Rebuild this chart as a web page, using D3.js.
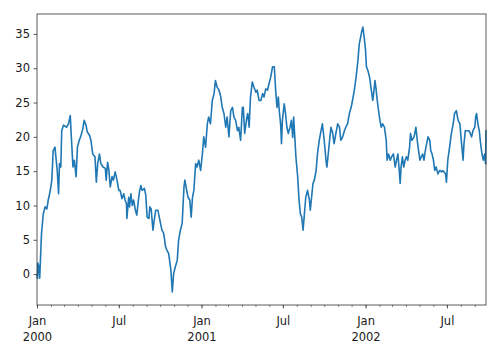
<!DOCTYPE html>
<html>
<head>
<meta charset="utf-8">
<script src="https://cdn.jsdelivr.net/npm/d3@7"></script>
<style>
  body { margin: 0; background: #fff; }
  text { font-family: "DejaVu Sans", sans-serif; font-size: 11.5px; fill: #1a1a1a; }
</style>
</head>
<body>
<svg width="500" height="353"></svg>
<script>
// dagen vanaf 2000-01-01 en de bijbehorende waarden
var days = [0, 1, 2, 4, 6, 10, 14, 18, 22, 25, 29, 33, 36, 40, 42, 45, 48, 50, 53, 55,
    59, 66, 70, 74, 76, 80, 83, 87, 90, 94, 97, 102, 105, 109, 112, 117, 120, 124, 129, 132,
    135, 139, 142, 147, 152, 154, 157, 160, 163, 167, 170, 174, 178, 182, 185, 189, 193, 196, 199, 200,
    204, 206, 209, 212, 215, 219, 222, 226, 228, 231, 234, 239, 242, 245, 249, 251, 254, 258, 261, 264,
    269, 272, 278, 282, 286, 289, 293, 295, 298, 301, 304, 308, 312, 315, 319, 323, 327, 329, 333, 336,
    340, 343, 346, 349, 353, 356, 360, 364, 368, 371, 375, 379, 382, 386, 390, 394, 397, 401, 405, 409,
    412, 416, 420, 423, 427, 431, 435, 438, 442, 446, 449, 453, 457, 459, 462, 467, 469, 472, 475, 479,
    483, 487, 490, 494, 498, 502, 505, 509, 513, 516, 520, 524, 528, 531, 534, 537, 539, 542, 544, 546,
    550, 553, 556, 559, 563, 566, 569, 571, 574, 576, 580, 583, 586, 589, 592, 595, 598, 602, 606, 608,
    611, 614, 617, 621, 624, 628, 632, 635, 639, 643, 645, 648, 651, 654, 658, 661, 665, 669, 673, 676,
    680, 684, 687, 691, 695, 699, 702, 706, 710, 714, 717, 720, 722, 725, 728, 731, 733, 736, 740, 743,
    747, 749, 752, 754, 757, 760, 763, 766, 769, 773, 777, 779, 782, 786, 789, 793, 797, 800, 803, 806,
    808, 810, 813, 816, 819, 822, 825, 829, 831, 834, 839, 843, 846, 849, 852, 855, 858, 861, 864, 867,
    870, 874, 876, 879, 882, 885, 888, 892, 896, 900, 903, 909, 911, 914, 918, 922, 926, 929, 933, 937,
    941, 944, 948, 950, 953, 958, 961, 964, 967, 970, 974, 976, 978, 981, 984, 987, 990, 993, 996, 998,
    999];

var values = [0.0, -0.6, 1.6, 1.1, -0.6, 5.9, 8.8, 9.8, 9.5, 10.8, 12.0, 13.7, 18.0, 18.5, 17.1, 15.1, 11.7, 16.1, 15.6, 20.9,
    21.7, 21.4, 21.9, 23.1, 20.5, 15.6, 16.6, 14.2, 18.5, 19.5, 20.0, 21.2, 22.4, 21.7, 20.7, 20.2, 19.5, 17.5, 17.1, 13.4,
    16.1, 17.5, 16.1, 15.6, 15.4, 13.7, 16.3, 15.1, 12.7, 14.2, 13.7, 14.9, 13.7, 12.2, 12.2, 11.0, 11.7, 10.8, 10.3, 8.1,
    11.2, 9.8, 11.7, 10.0, 10.8, 9.3, 8.6, 11.0, 12.0, 12.9, 12.2, 12.5, 11.5, 8.3, 8.1, 9.8, 9.5, 6.4, 7.9, 9.3,
    9.3, 8.3, 6.4, 5.9, 4.0, 3.5, 3.0, 2.0, 0.5, -2.6, 0.1, 1.1, 2.0, 4.9, 6.4, 7.4, 12.7, 13.7, 12.2, 11.2,
    10.8, 8.3, 11.2, 12.2, 16.1, 15.6, 16.6, 15.1, 17.5, 20.0, 18.5, 21.9, 22.9, 21.9, 25.3, 26.3, 28.2, 27.2, 26.8, 25.8,
    24.3, 23.4, 21.4, 22.9, 20.0, 23.8, 24.3, 22.9, 22.4, 20.9, 21.4, 19.5, 24.3, 24.3, 20.5, 22.9, 23.4, 21.4, 25.8, 28.0,
    27.2, 26.5, 26.8, 25.3, 25.3, 26.3, 25.8, 27.0, 26.8, 27.7, 28.7, 30.2, 30.2, 26.8, 24.3, 25.8, 23.8, 21.9, 19.0, 22.4,
    24.8, 23.4, 21.4, 20.5, 21.4, 22.4, 19.9, 22.9, 19.5, 17.1, 14.2, 10.8, 8.8, 8.3, 6.4, 8.8, 11.2, 12.2, 10.8, 9.3,
    11.2, 13.2, 13.7, 15.1, 17.5, 19.5, 20.9, 21.9, 19.5, 16.6, 15.6, 17.5, 19.5, 21.4, 20.5, 19.0, 20.5, 21.9, 21.4, 19.5,
    20.0, 20.9, 21.4, 21.9, 23.4, 24.3, 25.3, 26.8, 28.7, 31.1, 33.5, 34.5, 35.2, 36.0, 34.5, 32.6, 30.2, 29.7, 28.7, 27.2,
    25.3, 26.3, 28.2, 27.2, 25.3, 23.8, 22.4, 21.4, 21.9, 21.4, 19.5, 16.6, 17.5, 16.6, 17.1, 17.5, 15.6, 16.6, 17.5, 15.1,
    13.2, 15.6, 17.1, 15.6, 16.6, 17.1, 16.6, 18.5, 20.5, 19.5, 20.0, 21.4, 19.5, 18.0, 16.6, 17.1, 17.5, 16.6, 18.0, 19.0,
    20.0, 19.5, 18.0, 17.5, 16.6, 15.1, 15.6, 14.6, 15.1, 14.9, 15.1, 14.6, 13.4, 16.6, 18.5, 20.5, 21.9, 23.4, 23.8, 22.4,
    21.9, 19.5, 16.6, 19.0, 20.9, 20.9, 20.9, 20.5, 20.0, 20.9, 21.4, 22.9, 23.4, 21.9, 20.9, 19.0, 17.5, 16.6, 17.5, 16.1,
    21.0];

var yTicks = [0, 5, 10, 15, 20, 25, 30, 35];
var xMajorTicks = ["2000-01-01", "2000-07-01", "2001-01-01", "2001-07-01", "2002-01-01", "2002-07-01"];
var xMajorLabels = [["Jan", "2000"], ["Jul"], ["Jan", "2001"], ["Jul"], ["Jan", "2002"], ["Jul"]];

var svg = d3.select("svg"),
    margin = { top: 14, right: 14, bottom: 48, left: 37 },
    width = +svg.attr("width") - margin.left - margin.right,
    height = +svg.attr("height") - margin.top - margin.bottom;

var start = new Date(Date.UTC(2000, 0, 1));
function dayToDate(n) {
    return new Date(start.getTime() + n * 86400000);
}

var data = days.map(function (d, i) {
    return { date: dayToDate(d), value: values[i] };
});

var x = d3.scaleUtc()
    .domain([start, dayToDate(999)])
    .range([0, width]);
var y = d3.scaleLinear()
    .domain([-4.5, 37.9])
    .range([height, 0]);

var g = svg.append("g")
    .attr("transform", "translate(" + margin.left + "," + margin.top + ")");

// lijn
g.append("path")
    .datum(data)
    .attr("fill", "none")
    .attr("stroke", "#1f77b4")
    .attr("stroke-width", 1.6)
    .attr("stroke-linejoin", "round")
    .attr("d", d3.line()
        .x(function (d) { return x(d.date); })
        .y(function (d) { return y(d.value); }));

// kader
g.append("rect")
    .attr("width", width)
    .attr("height", height)
    .attr("fill", "none")
    .attr("stroke", "#333")
    .attr("stroke-width", 0.8);

// y-as
var yAxis = g.append("g")
    .call(d3.axisLeft(y).tickValues(yTicks).tickSize(3.5).tickPadding(3.5));
yAxis.select(".domain").remove();
yAxis.selectAll("line").attr("stroke", "#333").attr("stroke-width", 0.8);
yAxis.selectAll("text").attr("font-family", null).attr("font-size", null);

// x-as, kleine streepjes per maand
var minor = g.append("g")
    .attr("transform", "translate(0," + height + ")")
    .call(d3.axisBottom(x).ticks(d3.utcMonth.every(1)).tickSize(2).tickFormat(""));
minor.select(".domain").remove();
minor.selectAll("line").attr("stroke", "#333").attr("stroke-width", 0.6);

// x-as, hoofdstreepjes met labels
var majorDates = xMajorTicks.map(function (s) { return new Date(s + "T00:00:00Z"); });
var major = g.append("g")
    .attr("transform", "translate(0," + height + ")")
    .call(d3.axisBottom(x).tickValues(majorDates).tickSize(3.5).tickPadding(3.5).tickFormat(""));
major.select(".domain").remove();
major.selectAll("line").attr("stroke", "#333").attr("stroke-width", 0.8);
major.selectAll(".tick").each(function (d, i) {
    var t = d3.select(this).select("text")
        .attr("font-family", null).attr("font-size", null)
        .attr("y", 8).attr("dy", null);
    xMajorLabels[i].forEach(function (s, j) {
        t.append("tspan")
            .attr("x", 0)
            .attr("dy", j === 0 ? "1em" : "1.45em")
            .text(s);
    });
});
</script>
</body>
</html>
